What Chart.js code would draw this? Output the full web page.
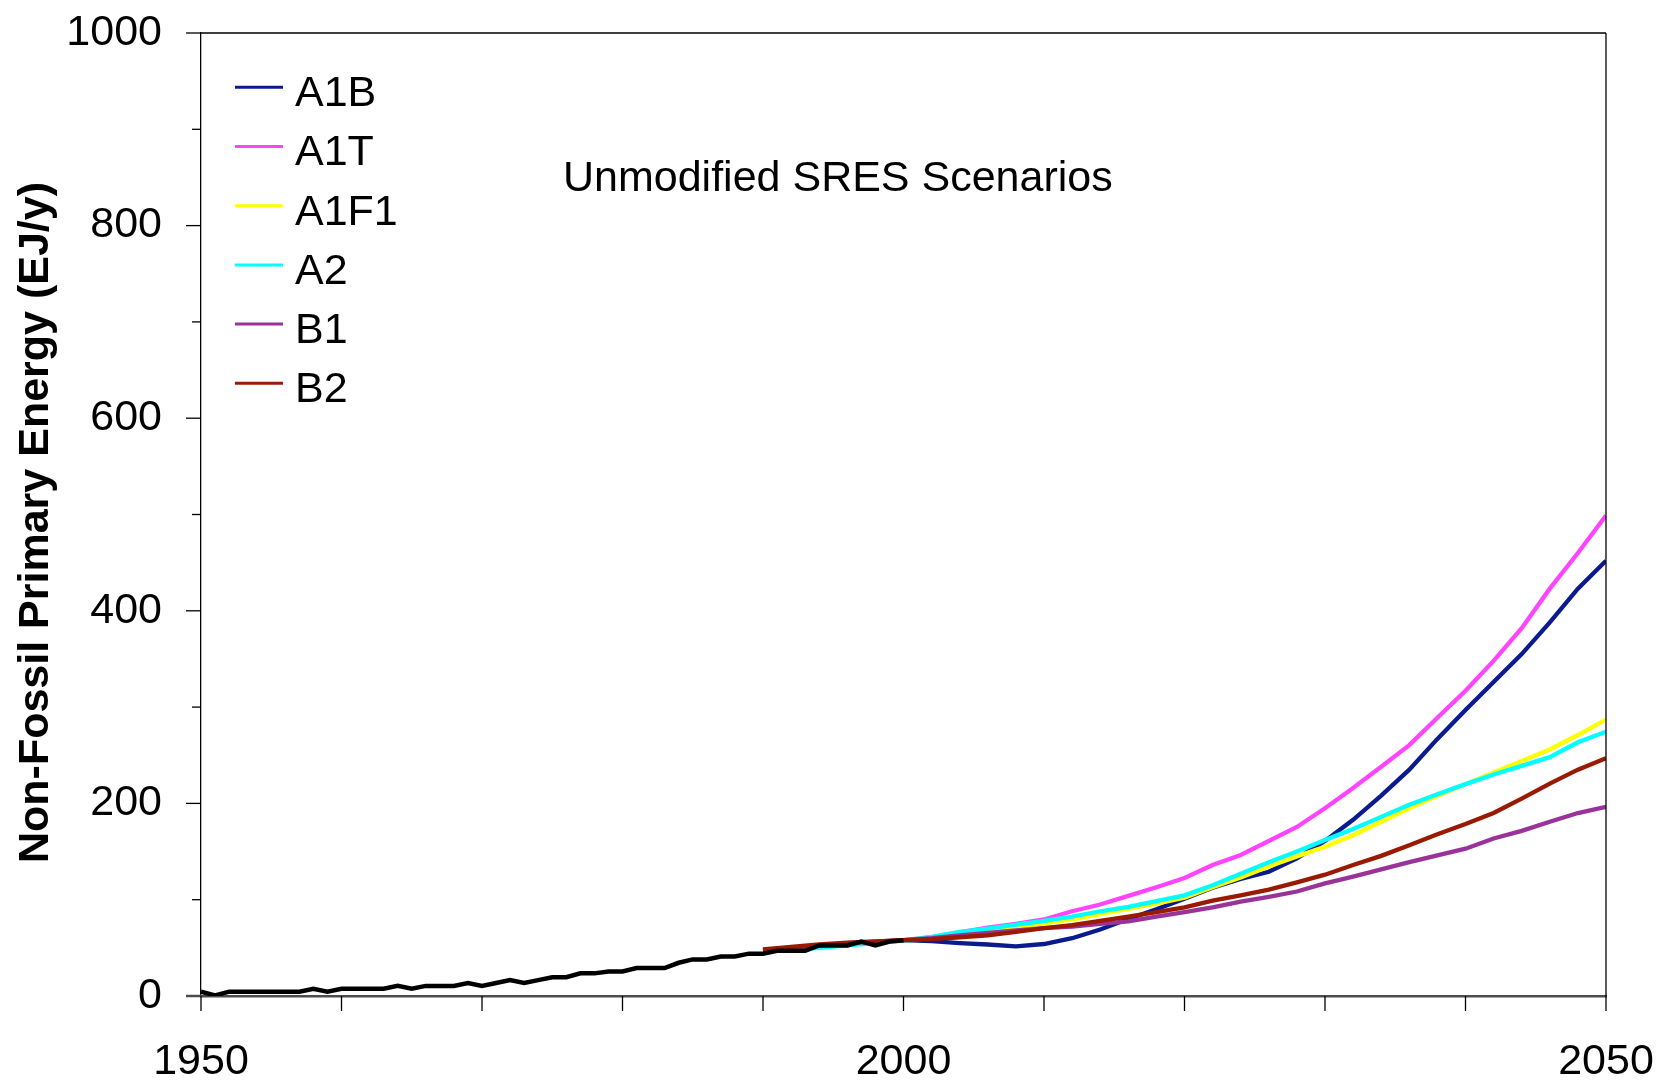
<!DOCTYPE html>
<html>
<head>
<meta charset="utf-8">
<script src="https://cdn.jsdelivr.net/npm/chart.js@4.4.1/dist/chart.umd.min.js"></script>
<style>
html,body{margin:0;padding:0;background:#ffffff;}
canvas{display:block;}
</style>
</head>
<body>
<canvas id="c" width="1656" height="1083"></canvas>
<script>
// ---------------- data ----------------
const scenarioYears = [1990,1992,1994,1996,1998,2000,2002,2004,2006,2008,2010,2012,2014,2016,2018,2020,2022,2024,2026,2028,2030,2032,2034,2036,2038,2040,2042,2044,2046,2048,2050];
const a1b  = [47,49,51.5,54,56,58,57,55,53.5,51.5,54,60,69,80,90,101,112.5,121.5,129,143,161,183,208,235,267,297,326,355,388,423,452];
const a1t  = [47,49,51.5,54,56,58,61,66,71,75,79.5,88,95,104,113,122.5,136,146.5,161,175.5,195,216,238,260.5,289,317,348,382,423,460,499];
const a1f1 = [47,49,51.5,54,56,58,60.5,64,67.5,71.5,75.5,79.5,85,90.5,96,102,113,123,134.5,145,155,167,181,195,208,220,232,244,256,271,287];
const a2   = [46,48,50,52.5,55,57.5,61.5,66.5,70,74,78,82.5,88,92.5,98.5,104.5,115,127,139,150,162,173.5,186,198.5,209.5,220,230,239,248,263.5,274.5];
const b1   = [47.5,50,52.5,55,56.5,58,60,63,65.5,68,70.5,72,75,77.5,82.5,87,92,98,103,108.5,117,124,131.5,139,146,153,163.5,171.5,181,190,196.5];
const b2   = [48.5,51,53.5,55.5,56.7,58,59,61,63,66.5,70.5,73.5,78,82.5,87,92,99,104.5,110.5,118,126,136,145.5,156.5,168,178.5,190,205,220.5,235,247];

const histYears = [1950,1951,1952,1953,1954,1955,1956,1957,1958,1959,1960,1961,1962,1963,1964,1965,1966,1967,1968,1969,1970,1971,1972,1973,1974,1975,1976,1977,1978,1979,1980,1981,1982,1983,1984,1985,1986,1987,1988,1989,1990,1991,1992,1993,1994,1995,1996,1997,1998,1999,2000];
const histValues = [4.5,0.5,4.5,4.5,4.5,4.5,4.5,4.5,7.5,4.5,7.5,7.5,7.5,7.5,10.5,7.5,10.5,10.5,10.5,13.5,10.5,13.5,16.5,13.5,16.5,19.5,19.5,23.5,23.5,25.5,25.5,29,29,29,34.5,38,38,41,41,44,44,47,47,47,52.5,52.5,52.5,56.5,52.5,56.5,58];

const seriesNames  = ['A1B','A1T','A1F1','A2','B1','B2'];
const seriesValues = [a1b, a1t, a1f1, a2, b1, b2];
const seriesColors = ['#0B1A8E','#FF44FF','#FFFF00','#00FFFF','#993399','#991A00'];

const xLabelYears = [1950, 2000, 2050];
const yTickLabels = [0, 200, 400, 600, 800, 1000];
const annotationText = 'Unmodified SRES Scenarios';
const yTitleText = 'Non-Fossil Primary Energy (EJ/y)';

// ---------------- chart ----------------
const FONT = "'Liberation Sans', Arial, Helvetica, sans-serif";
const toPts = (xs, ys) => xs.map((x, i) => ({x: x, y: ys[i]}));

const datasets = seriesNames.map((name, i) => ({
  label: name,
  data: toPts(scenarioYears, seriesValues[i]),
  borderColor: seriesColors[i],
  backgroundColor: seriesColors[i],
  borderWidth: 4.3,
  pointRadius: 0,
  tension: 0,
  fill: false,
  order: seriesNames.length - i
}));
datasets.push({
  label: 'Historical',
  data: toPts(histYears, histValues),
  borderColor: '#000000',
  backgroundColor: '#000000',
  borderWidth: 4.5,
  pointRadius: 0,
  tension: 0,
  fill: false,
  order: 0
});

const decor = {
  id: 'decor',
  afterDraw(chart) {
    const {ctx, chartArea: a, scales: {x, y}} = chart;
    ctx.save();
    const line = (x1, y1, x2, y2) => { ctx.beginPath(); ctx.moveTo(x1, y1); ctx.lineTo(x2, y2); ctx.stroke(); };
    // frame top + right
    ctx.strokeStyle = '#000';
    ctx.lineWidth = 1.3;
    line(a.left, a.top, a.right, a.top);
    line(a.right, a.top, a.right, a.bottom);
    // y ticks (major every 200, minor every 100)
    for (let v = y.min; v <= y.max; v += 100) {
      const py = y.getPixelForValue(v);
      const major = yTickLabels.includes(v);
      ctx.strokeStyle = v === 0 ? '#4d4d4d' : '#000';
      ctx.lineWidth = v === 0 ? 2.5 : 1.3;
      line(a.left - (major ? 15 : 9), py, a.left, py);
    }
    // x ticks every 10 years
    ctx.strokeStyle = '#000';
    ctx.lineWidth = 1.3;
    for (let yr = x.min; yr <= x.max; yr += 10) {
      const px = x.getPixelForValue(yr);
      line(px, a.bottom, px, a.bottom + 15);
    }
    // legend
    ctx.font = '43px ' + FONT;
    ctx.textAlign = 'left';
    ctx.textBaseline = 'middle';
    seriesNames.forEach((name, i) => {
      const ly = 87.3 + i * 59.2;
      ctx.strokeStyle = seriesColors[i];
      ctx.lineWidth = 3;
      line(235, ly, 283, ly);
      ctx.fillStyle = '#000';
      ctx.fillText(name, 295, ly + 7);
    });
    // annotation
    ctx.fillText(annotationText, 563, 179);
    // y-axis title
    ctx.translate(36, 522.5);
    ctx.rotate(-Math.PI / 2);
    ctx.font = 'bold 43px ' + FONT;
    ctx.textAlign = 'center';
    ctx.textBaseline = 'middle';
    ctx.fillText(yTitleText, 0, 0);
    ctx.restore();
  }
};

new Chart(document.getElementById('c'), {
  type: 'line',
  data: { datasets: datasets },
  options: {
    responsive: false,
    animation: false,
    devicePixelRatio: 1,
    layout: { padding: { top: 33, right: 50, left: 0, bottom: 0 } },
    plugins: { legend: { display: false }, tooltip: { enabled: false } },
    scales: {
      x: {
        type: 'linear',
        min: 1950, max: 2050,
        afterFit(s) { s.height = 87; s.paddingLeft = 0; s.paddingRight = 0; },
        grid: { display: false, drawTicks: false },
        border: { display: true, color: '#4d4d4d', width: 2.5 },
        ticks: {
          stepSize: 50,
          autoSkip: false,
          maxRotation: 0,
          padding: 40,
          color: '#000',
          font: { family: FONT, size: 43 },
          callback: v => xLabelYears.includes(v) ? String(v) : ''
        }
      },
      y: {
        type: 'linear',
        min: 0, max: 1000,
        afterFit(s) { s.width = 201; s.paddingTop = 0; s.paddingBottom = 0; },
        grid: { display: false, drawTicks: false },
        border: { display: true, color: '#000', width: 1.3 },
        ticks: {
          stepSize: 200,
          autoSkip: false,
          padding: 39,
          color: '#000',
          font: { family: FONT, size: 43 },
          callback: v => yTickLabels.includes(v) ? String(v) : ''
        },
        title: { display: false }
      }
    }
  },
  plugins: [decor]
});
</script>
</body>
</html>
